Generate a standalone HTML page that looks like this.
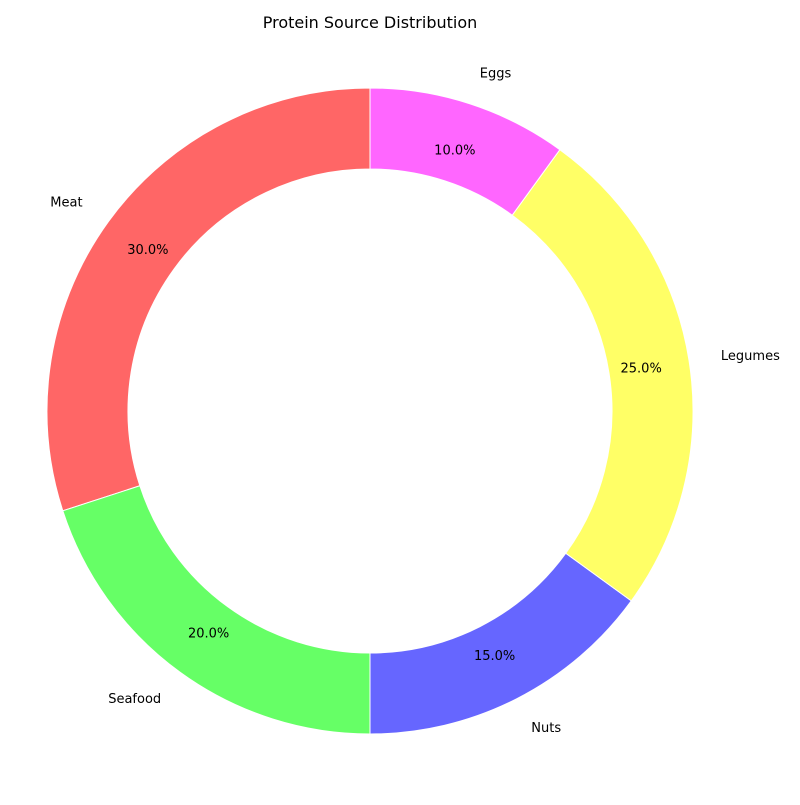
<!DOCTYPE html>
<html><head><meta charset="utf-8"><style>
body{margin:0;background:#fff}
svg text{font-family:"DejaVu Sans","Liberation Sans",sans-serif}
</style></head><body>
<svg id="chart" width="800" height="800" viewBox="0 0 800 800">
<rect width="800" height="800" fill="#fff"/>
<text x="370" y="28" text-anchor="middle" font-size="16" fill="#000">Protein Source Distribution</text>
<g id="slices"></g>
</svg>
<script>
const categories=["Meat","Seafood","Nuts","Legumes","Eggs"];
const values=[30,20,15,25,10];
const colors=["#ff6666","#66ff66","#6666ff","#ffff66","#ff66ff"];
const cx=370,cy=411,R=323,r=242;
const g=document.getElementById('slices');
const NS="http://www.w3.org/2000/svg";
const total=values.reduce((a,b)=>a+b,0);
let a0=90;
function pt(rad,deg){const t=deg*Math.PI/180;return [cx+rad*Math.cos(t),cy-rad*Math.sin(t)];}
values.forEach((v,i)=>{
  const sweep=v/total*360,a1=a0+sweep;
  const [x1,y1]=pt(R,a0),[x2,y2]=pt(R,a1),[x3,y3]=pt(r,a1),[x4,y4]=pt(r,a0);
  const large=sweep>180?1:0;
  const p=document.createElementNS(NS,'path');
  p.setAttribute('d',`M${x1},${y1} A${R},${R} 0 ${large} 0 ${x2},${y2} L${x3},${y3} A${r},${r} 0 ${large} 1 ${x4},${y4} Z`);
  p.setAttribute('fill',colors[i]);
  p.setAttribute('stroke','#fff');p.setAttribute('stroke-width','1');
  
  
  g.appendChild(p);
  const mid=a0+sweep/2;
  const [lx,ly]=pt(R*1.1,mid);
  const t=document.createElementNS(NS,'text');
  t.setAttribute('x',lx);t.setAttribute('y',ly+4.5);
  t.setAttribute('font-size','13');
  t.setAttribute('text-anchor',lx>cx?'start':'end');
  t.textContent=categories[i];
  
  
  g.appendChild(t);
  const [px,py]=pt(R*0.85,mid);
  const q=document.createElementNS(NS,'text');
  q.setAttribute('x',px);q.setAttribute('y',py+4.5);
  q.setAttribute('font-size','13');q.setAttribute('text-anchor','middle');
  q.textContent=(v/total*100).toFixed(1)+'%';
  
  
  g.appendChild(q);
  a0=a1;
});
</script>
</body></html>
